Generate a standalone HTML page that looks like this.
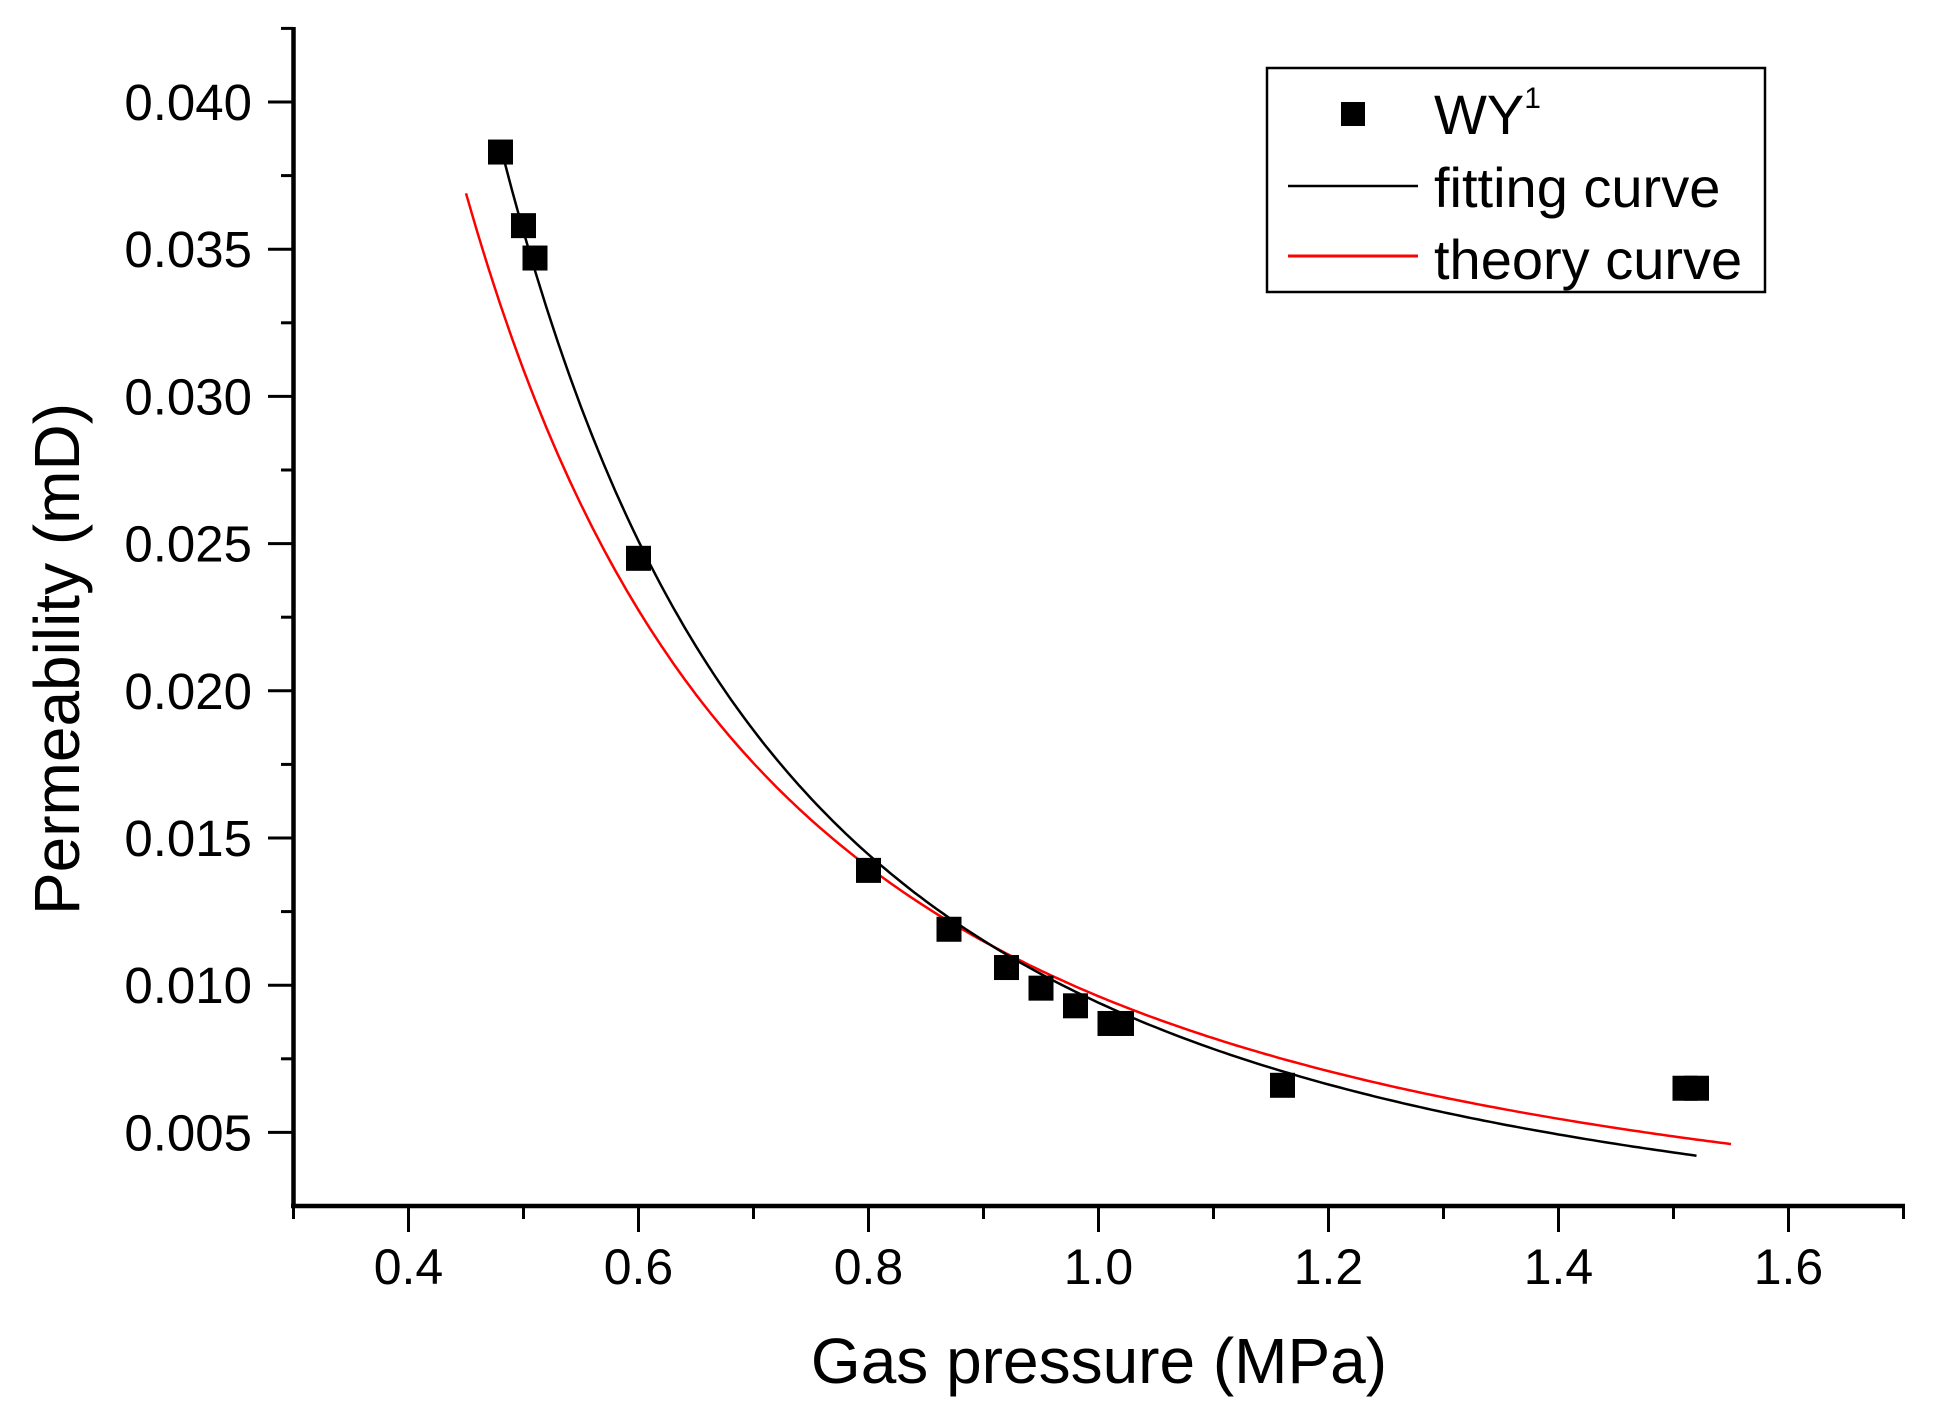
<!DOCTYPE html>
<html><head><meta charset="utf-8"><style>
html,body{margin:0;padding:0;background:#fff;}
svg{display:block;}
text{font-family:"Liberation Sans",Arial,sans-serif;fill:#000;}
</style></head><body>
<svg id="s" width="1941" height="1415" viewBox="0 0 1941 1415" xmlns="http://www.w3.org/2000/svg">
<rect width="1941" height="1415" fill="#fff"/>
<g id="ticks" stroke="#000" stroke-width="3"></g>
<line x1="293.5" y1="27" x2="293.5" y2="1208" stroke="#000" stroke-width="4.5"/>
<line x1="291" y1="1206" x2="1905" y2="1206" stroke="#000" stroke-width="4.5"/>
<g id="ylab" font-size="51" text-anchor="end"></g>
<g id="xlab" font-size="50" text-anchor="middle"></g>
<text x="1099" y="1383" font-size="64" text-anchor="middle">Gas pressure (MPa)</text>
<text transform="translate(79,659) rotate(-90)" font-size="64" text-anchor="middle">Permeability (mD)</text>
<path id="theory" fill="none" stroke="#ff0000" stroke-width="2.5"/>
<path id="fit" fill="none" stroke="#000" stroke-width="2.5"/>
<g id="pts" fill="#000"></g>
<rect x="1267" y="68" width="498" height="224" fill="#fff" stroke="#000" stroke-width="2.5"/>
<rect x="1341" y="102" width="24" height="24" fill="#000"/>
<text x="1434" y="134" font-size="56">WY<tspan font-size="30" dy="-26">1</tspan></text>
<line x1="1288" y1="186" x2="1418" y2="186" stroke="#000" stroke-width="2.5"/>
<text x="1434" y="207" font-size="56">fitting curve</text>
<line x1="1288" y1="256" x2="1418" y2="256" stroke="#ff0000" stroke-width="3"/>
<text x="1434" y="279" font-size="56">theory curve</text>
</svg>
<script>
var NS="http://www.w3.org/2000/svg";
function X(p){return 293.5+(p-0.3)*1150;}
function Y(v){return 1206-(v-0.0025)*29440;}
function el(t,a,parent,txt){var e=document.createElementNS(NS,t);for(var k in a)e.setAttribute(k,a[k]);if(txt!=null)e.textContent=txt;document.getElementById(parent).appendChild(e);}
for(var i=0;i<=15;i++){var v=0.005+i*0.0025;if(v>0.0426)break;var y=Y(v);var major=(i%2==0);
 el('line',{x1:major?268:281,y1:y,x2:293,y2:y},'ticks');
 if(major)el('text',{x:252,y:y+18},'ylab',v.toFixed(3));}
for(var i=0;i<=14;i++){var p=0.3+i*0.1;var x=X(p);var major=(i%2==1);
 el('line',{x1:x,y1:1206,x2:x,y2:major?1232:1219},'ticks');
 if(major)el('text',{x:x,y:1284},'xlab',p.toFixed(1));}
function curve(a,b,p0,p1){var d='';for(var p=p0;p<=p1+1e-9;p+=0.005){var v=a*Math.pow(p,b);d+=(d?'L':'M')+X(p).toFixed(1)+','+Y(v).toFixed(1);}return d;}
var bf=-1.92,af=0.0385/Math.pow(0.48,bf);
document.getElementById('fit').setAttribute('d',curve(af,bf,0.48,1.52));
var bt=-1.683,at=0.0369/Math.pow(0.45,bt);
document.getElementById('theory').setAttribute('d',curve(at,bt,0.45,1.55));
var pts=[[0.48,0.0383],[0.50,0.0358],[0.51,0.0347],[0.60,0.0245],[0.80,0.0139],[0.87,0.0119],[0.92,0.0106],[0.95,0.0099],[0.98,0.0093],[1.01,0.0087],[1.02,0.0087],[1.16,0.0066],[1.51,0.0065],[1.52,0.0065]];
pts.forEach(function(q){el('rect',{x:X(q[0])-12.5,y:Y(q[1])-12.5,width:25,height:25},'pts');});
</script>
</body></html>
